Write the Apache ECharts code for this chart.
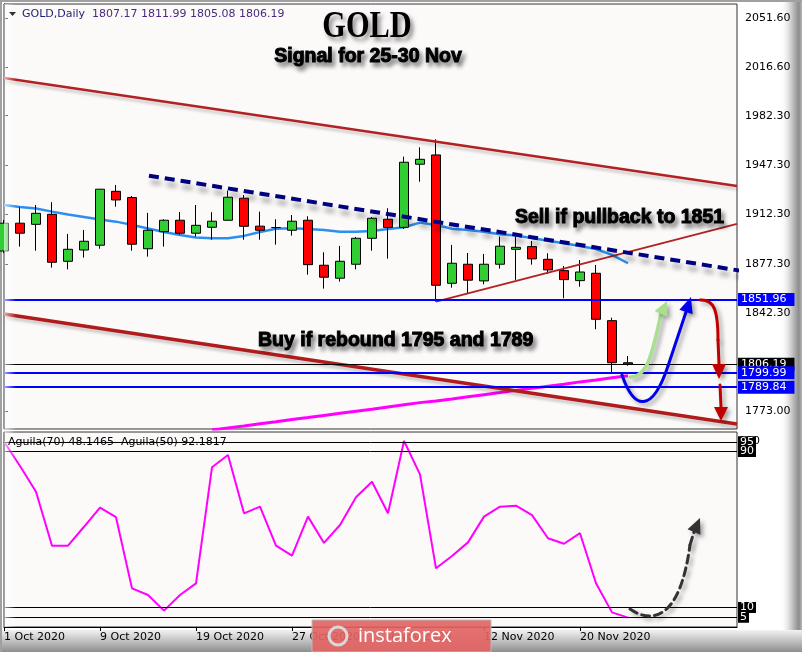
<!DOCTYPE html>
<html><head><meta charset="utf-8">
<script src="https://cdn.jsdelivr.net/npm/echarts@6/dist/echarts.min.js"></script>
<style>html,body{margin:0;padding:0;background:#fff;}#c{width:802px;height:652px;}</style>
</head><body><div id="c"></div>
<script>
// ---------- data ----------
const dates = ['2020-10-01','2020-10-02','2020-10-05','2020-10-06','2020-10-07','2020-10-08','2020-10-09','2020-10-12','2020-10-13','2020-10-14','2020-10-15','2020-10-16','2020-10-19','2020-10-20','2020-10-21','2020-10-22','2020-10-23','2020-10-26','2020-10-27','2020-10-28','2020-10-29','2020-10-30','2020-11-02','2020-11-03','2020-11-04','2020-11-05','2020-11-06','2020-11-09','2020-11-10','2020-11-11','2020-11-12','2020-11-13','2020-11-16','2020-11-17','2020-11-18','2020-11-19','2020-11-20','2020-11-23','2020-11-24','2020-11-25'];
const opens  = [1886.4,1906.1,1905.3,1912.4,1879.1,1887.1,1890.5,1928.7,1924.3,1888.0,1900.1,1908.2,1899.0,1903.2,1908.2,1923.8,1904.0,1903.0,1901.1,1908.2,1876.3,1867.1,1877.0,1895.4,1908.9,1903.2,1947.9,1954.5,1863.5,1877.0,1865.2,1877.0,1887.6,1889.5,1880.5,1872.5,1865.4,1870.6,1837.0,1807.17];
const highs  = [1908.4,1917.4,1919.0,1921.0,1898.5,1901.3,1930.4,1933.2,1925.4,1913.4,1908.9,1914.1,1919.0,1913.9,1929.2,1926.1,1914.3,1908.9,1911.9,1911.0,1885.5,1890.0,1896.4,1910.5,1916.7,1953.3,1959.9,1965.6,1890.7,1885.0,1884.3,1896.6,1896.6,1893.5,1884.8,1875.8,1880.0,1876.5,1839.1,1811.99];
const lows   = [1885.0,1889.5,1886.6,1874.6,1873.4,1881.7,1888.0,1917.8,1886.6,1882.4,1889.5,1898.0,1896.6,1894.4,1907.7,1894.4,1894.4,1890.9,1897.3,1869.6,1859.7,1864.7,1873.4,1886.6,1881.0,1902.0,1935.5,1850.5,1860.4,1855.9,1862.8,1873.9,1865.9,1876.7,1870.1,1852.9,1861.1,1830.9,1800.2,1805.08];
const closes = [1906.1,1899.0,1913.1,1878.4,1887.6,1893.3,1930.2,1922.6,1891.2,1901.1,1908.2,1899.0,1904.6,1907.5,1924.5,1903.9,1901.1,1903.0,1907.5,1876.7,1867.8,1879.1,1895.4,1909.6,1903.1,1949.3,1951.4,1862.1,1877.7,1865.7,1877.0,1889.8,1889.0,1880.8,1873.0,1866.1,1871.5,1838.0,1807.2,1806.19];
const blueMA = [1919.0,1917.6,1916.5,1914.3,1912.2,1910.5,1908.8,1907.2,1904.9,1902.4,1899.9,1897.8,1896.0,1895.4,1895.4,1897.1,1899.9,1902.2,1902.5,1902.0,1901.3,1900.1,1900.1,1900.6,1902.0,1903.2,1906.5,1904.9,1902.2,1901.3,1900.1,1898.3,1897.3,1895.6,1893.7,1891.9,1890.0,1887.8,1883.6,1877.7];
const magentaMA = [null,null,null,null,null,null,null,null,null,null,null,null,null,1759.5,1761.0,1762.4,1764.0,1765.4,1767.0,1768.3,1769.8,1771.3,1772.8,1774.2,1775.8,1777.4,1778.9,1780.1,1781.5,1783.0,1784.5,1786.0,1787.6,1789.0,1790.5,1792.0,1793.6,1795.0,1796.5,1797.9];
const aguila = [95.0,82.6,69.4,41.7,41.7,51.4,61.2,56.3,19.8,16.4,8.4,16.4,22.4,81.9,88.2,58.3,61.7,41.7,36.6,56.6,43.1,52.3,66.5,74.5,58.3,95.4,78.3,30.1,36.4,43.4,56.6,61.7,62.2,57.4,45.5,42.7,48.1,22.4,7.5,4.8];
const xTickIdx = [0,6,12,18,24,30,36];
const xTickLabels = ['1 Oct 2020','9 Oct 2020','19 Oct 2020','27 Oct 2020','4 Nov 2020','12 Nov 2020','20 Nov 2020'];
const priceTicks = [2051.6,2016.6,1982.3,1947.3,1912.3,1877.3,1842.3,1773.0];
const priceLevels = [1851.96,1806.19,1799.99,1789.84];
const oscLevels = [95,90,10,5];
const trendUpper = [[0,2009.1],[45.8125,1932.5]];
const trendLower = [[0,1841.8],[45.8125,1763.8]];
const trendRising = [[27,1850.5],[45.8125,1905.6]];
const trendDashed = [[9.06,1939.8],[47.94,1868.9]];

// ---------- chart ----------
const XMAX = 45.8125;
const chart = echarts.init(document.getElementById('c'));
const candleData = dates.map((d,i)=>[i, opens[i], closes[i], lows[i], highs[i]]);
const levelStyle = {1851.96:'#0000ff',1806.19:'#000000',1799.99:'#0000ff',1789.84:'#0000ff'};

const option = {
  animation:false,
  backgroundColor:'#ffffff',
  textStyle:{fontFamily:'DejaVu Sans'},
  grid:[
    {left:4, top:4, width:733, height:425, show:true, backgroundColor:'#fcf9f9', borderColor:'#333', borderWidth:1, outerBoundsMode:'none'},
    {left:4, top:432, width:733, height:195, show:true, backgroundColor:'#fcf9f9', borderColor:'#333', borderWidth:1, outerBoundsMode:'none'}
  ],
  xAxis:[
    {type:'value', gridIndex:0, min:0, max:XMAX, show:false},
    {type:'value', gridIndex:1, min:0, max:XMAX, splitLine:{show:false},
     axisLine:{show:true, onZero:false, lineStyle:{color:'#000'}},
     axisTick:{show:true, customValues:xTickIdx, length:4, lineStyle:{color:'#000'}},
     axisLabel:{customValues:xTickIdx, formatter:v=>{const k=xTickIdx.indexOf(v);return k<0?'':xTickLabels[k];}, align:'left', margin:5, color:'#000', fontFamily:'DejaVu Sans', fontSize:11}}
  ],
  yAxis:[
    {type:'value', gridIndex:0, position:'right', min:1760.2, max:2061.5, splitLine:{show:false},
     axisLine:{show:true, lineStyle:{color:'#000'}},
     axisTick:{show:true, customValues:priceTicks, length:4, lineStyle:{color:'#000'}},
     axisLabel:{customValues:priceTicks, formatter:v=>v.toFixed(2), color:'#000', fontFamily:'DejaVu Sans', fontSize:11, margin:8}},
    {type:'value', gridIndex:1, position:'right', min:0, max:100, splitLine:{show:false},
     axisLine:{show:true, lineStyle:{color:'#000'}}, axisTick:{show:false}, axisLabel:{show:false}}
  ],
  series:[
    {type:'line', xAxisIndex:0, yAxisIndex:0, data:blueMA.map((v,i)=>[i,v]), symbol:'none', z:2,
     lineStyle:{color:'#2b8ff0', width:2.5}},
    {type:'line', xAxisIndex:0, yAxisIndex:0, data:magentaMA.map((v,i)=>[i,v]).filter(p=>p[1]!=null), symbol:'none', z:2,
     lineStyle:{color:'#ff00ff', width:3}},
    {type:'candlestick', xAxisIndex:0, yAxisIndex:0, data:candleData, encode:{x:0, y:[1,2,3,4]}, barWidth:10, z:3,
     itemStyle:{color:'#32cd32', color0:'#ff0000', borderColor:'#000', borderColor0:'#000', borderColorDoji:'#000', borderWidth:1},
     markLine:{silent:true, symbol:['none','none'], precision:2,
       data:priceLevels.map(v=>({yAxis:v,
         lineStyle:{color:levelStyle[v], width:v===1806.19?1:2, type:'solid'},
         label:{show:true, position:'end', distance:1, formatter:()=>v.toFixed(2), color:'#fff',
                backgroundColor:levelStyle[v], padding:[1,8,1,3], fontFamily:'DejaVu Sans', fontSize:11}}))}},
    {type:'line', xAxisIndex:0, yAxisIndex:0, data:trendUpper, symbol:'none', z:4,
     lineStyle:{color:'#b22222', width:2.5, shadowColor:'rgba(0,0,0,0.2)', shadowBlur:3, shadowOffsetY:3}},
    {type:'line', xAxisIndex:0, yAxisIndex:0, data:trendLower, symbol:'none', z:4,
     lineStyle:{color:'#b01c1c', width:3.5, shadowColor:'rgba(0,0,0,0.2)', shadowBlur:3, shadowOffsetY:3}},
    {type:'line', xAxisIndex:0, yAxisIndex:0, data:trendRising, symbol:'none', z:4,
     lineStyle:{color:'#b22222', width:2}},
    {type:'line', xAxisIndex:0, yAxisIndex:0, data:trendDashed, symbol:'none', z:4, clip:false,
     lineStyle:{color:'#000080', width:4, type:[10,6], shadowColor:'rgba(0,0,0,0.35)', shadowBlur:5, shadowOffsetX:2, shadowOffsetY:6}},
    {type:'line', xAxisIndex:1, yAxisIndex:1, data:aguila.map((v,i)=>[i,v]), symbol:'none', z:3,
     lineStyle:{color:'#ff00ff', width:2},
     markLine:{silent:true, symbol:['none','none'],
       data:oscLevels.map(v=>({yAxis:v, lineStyle:{color:'#000', width:1, type:'solid'},
         label:{show:true, position:'end', distance:1, formatter:()=>String(v), color:'#fff', backgroundColor:'#000',
                padding:[0,2,0,2], fontFamily:'DejaVu Sans', fontSize:11, lineHeight:11}}))}}
  ]
};
chart.setOption(option);

// ---------- annotations (anchored in data coordinates) ----------
const px = (g,p)=>chart.convertToPixel({gridIndex:g}, p);
function arrowParts(g, curve, tail, tip, color, width, dash){
  const P = curve.map(p=>px(g,p));
  const B = px(g, tail), T = px(g, tip);
  const shadow = {shadowColor:'rgba(0,0,0,0.35)', shadowBlur:4, shadowOffsetX:3, shadowOffsetY:3};
  const st = Object.assign({fill:'none', stroke:color, lineWidth:width, lineDash:dash||null, lineCap:'round'}, shadow);
  const out = [];
  let last = P[0];
  if (P.length===4){
    out.push({type:'bezierCurve', z:20, shape:{x1:P[0][0],y1:P[0][1],cpx1:P[1][0],cpy1:P[1][1],cpx2:P[2][0],cpy2:P[2][1],x2:P[3][0],y2:P[3][1]}, style:st});
    last = P[3];
  }
  out.push({type:'line', z:20, shape:{x1:last[0],y1:last[1],x2:B[0],y2:B[1]}, style:Object.assign({}, st)});
  const dx=T[0]-B[0], dy=T[1]-B[1], L=Math.hypot(dx,dy), nx=-dy/L*7, ny=dx/L*7;
  out.push({type:'polygon', z:20, shape:{points:[T,[B[0]+nx,B[1]+ny],[B[0]-nx,B[1]-ny]]}, style:Object.assign({fill:color}, shadow)});
  return out;
}
const annGreen = {curve:[[39.125,1797.1],[40.25,1796.4],[40.5625,1816.2],[41.0625,1841.8]], tail:[41.0625,1841.8], tip:[41.4375,1851.0]};
const annBlue  = {curve:[[38.625,1798.5],[39.375,1773.7],[40.5,1770.9],[41.5,1804.9]], tail:[42.625,1843.2], tip:[42.9375,1853.8]};
const annRed1  = {curve:[[43.5,1851.7],[44.375,1852.4],[44.625,1844.6],[44.625,1823.3]], tail:[44.6875,1806.3], tip:[44.6875,1795.7]};
const annRed2  = {curve:[[44.75,1791.4]], tail:[44.8125,1775.8], tip:[44.8125,1765.9]};
const annOsc   = {curve:[[39.125,9.2],[40.5,1.5],[42.25,3.6],[42.875,42.1]], tail:[43.125,48.7], tip:[43.5,55.9]};

const textShadow = {textShadowColor:'rgba(0,0,0,0.45)', textShadowBlur:4, textShadowOffsetX:3, textShadowOffsetY:4};
const g = [
  {type:'rect', z:-1, shape:{x:780,y:0,width:22,height:652}, style:{fill:new echarts.graphic.LinearGradient(0,0,1,0,[{offset:0,color:'rgba(255,255,255,0)'},{offset:0.45,color:'#d6d6d6'},{offset:0.85,color:'#8c8c8c'},{offset:1,color:'#b5b5b5'}])}},
  {type:'rect', z:-1, shape:{x:0,y:630,width:802,height:22}, style:{fill:new echarts.graphic.LinearGradient(0,0,0,1,[{offset:0,color:'#f2f2f2'},{offset:1,color:'#8e8e8e'}])}},
  {type:'rect', z:-1, shape:{x:0,y:0,width:802,height:2}, style:{fill:'#a0a0a0'}},
  {type:'rect', z:-1, shape:{x:0,y:0,width:2,height:652}, style:{fill:'#a0a0a0'}},
  {type:'text', z:0, x:739, y:441, style:{text:'100', fill:'#000', font:'11px "DejaVu Sans"', verticalAlign:'middle'}},
  {type:'rect', z:15, shape:{x:4,y:4,width:12,height:623}, style:{fill:new echarts.graphic.LinearGradient(0,0,1,0,[{offset:0,color:'rgba(255,255,255,0.65)'},{offset:1,color:'rgba(255,255,255,0)'}])}},
  {type:'polygon', z:20, shape:{points:[[9,12],[16,12],[12.5,16]]}, style:{fill:'#333'}},
  {type:'text', z:20, x:22, y:14, style:{text:'{a|GOLD,Daily}  {b|1807.17 1811.99 1805.08 1806.19}', verticalAlign:'middle', font:'11px "DejaVu Sans"',
     rich:{a:{fill:'#1e1e6e', fontSize:11, fontFamily:'DejaVu Sans'}, b:{fill:'#4a2a82', fontSize:11, fontFamily:'DejaVu Sans'}}}},
  {type:'text', z:20, x:367, y:27, scaleX:0.82, style:Object.assign({text:'GOLD', fill:'#000', font:'bold 37px "Liberation Serif"', align:'center', verticalAlign:'middle'}, textShadow)},
  {type:'text', z:20, x:368, y:57, style:Object.assign({text:'Signal for 25-30 Nov', fill:'#000', font:'bold 19.5px "Liberation Sans"', align:'center', verticalAlign:'middle', stroke:'#000', lineWidth:1}, textShadow)},
  {type:'text', z:20, x:515, y:218, style:Object.assign({text:'Sell if pullback to 1851', fill:'#000', font:'bold 19.5px "Liberation Sans"', verticalAlign:'middle', stroke:'#000', lineWidth:1}, textShadow)},
  {type:'text', z:20, x:258, y:341, style:Object.assign({text:'Buy if rebound 1795 and 1789', fill:'#000', font:'bold 19.5px "Liberation Sans"', verticalAlign:'middle', stroke:'#000', lineWidth:1}, textShadow)},
  {type:'text', z:20, x:8, y:442, style:{text:'Aguila(70) 48.1465  Aguila(50) 92.1817', fill:'#000', font:'11px "DejaVu Sans"', verticalAlign:'middle'}},
  {type:'rect', z:30, shape:{x:312,y:620,width:179,height:32}, style:{fill:'rgba(226,100,100,0.92)', stroke:'#bbb', lineWidth:1}},
  {type:'circle', z:31, shape:{cx:338,cy:636,r:9}, style:{fill:'none', stroke:'#d9d9d9', lineWidth:3}},
  {type:'text', z:31, x:358, y:636, style:{text:'instaforex', fill:'#fff', font:'20px "Open Sans"', verticalAlign:'middle'}}
];
[[0,annGreen,'#a8e090',3.5,null],[0,annBlue,'#0000ee',3,null],[0,annRed1,'#c00000',3,null],[0,annRed2,'#c00000',3,null],[1,annOsc,'#333333',3,[8,5]]]
  .forEach(([gi,a,c,w,dsh])=>{ arrowParts(gi,a.curve,a.tail,a.tip,c,w,dsh).forEach(e=>g.push(e)); });
chart.setOption({graphic:g});
</script></body></html>
